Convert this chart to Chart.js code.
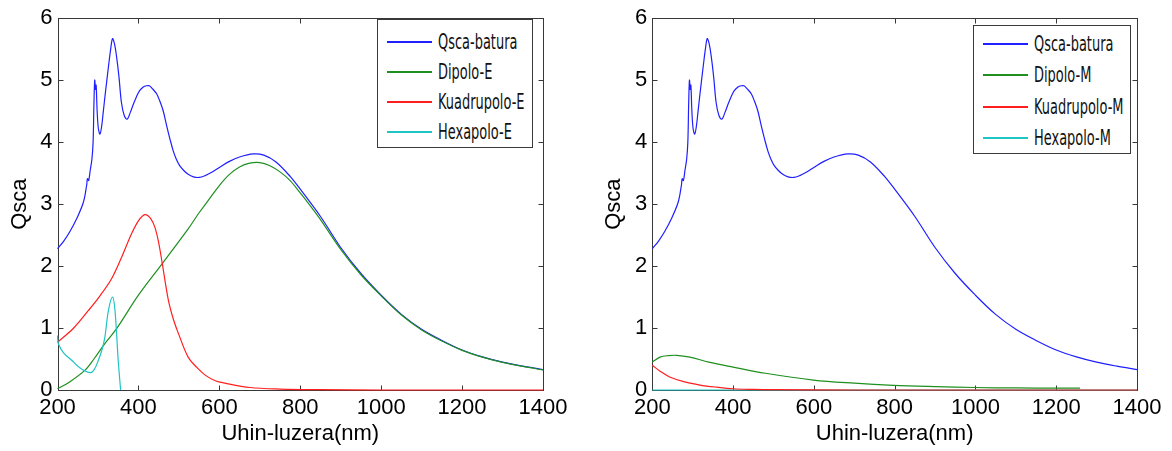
<!DOCTYPE html>
<html>
<head>
<meta charset="utf-8">
<script src="https://cdn.jsdelivr.net/npm/chart.js@4.4.1/dist/chart.umd.min.js"></script>
<style>
body { margin: 0; background: #fff; }
#wrap { position: relative; width: 1172px; height: 451px; overflow: hidden; }
canvas { position: absolute; top: 0; }
#chartE { left: 0; }
#chartM { left: 586px; }
.legend {
    position: absolute; box-sizing: border-box; background: #fff;
    border: 1px solid #3a3a3a;
    font-family: "Liberation Sans Narrow", "DejaVu Sans Condensed", sans-serif;
    font-size: 18px; color: #111;
}
.legend .row { position: absolute; left: 0; right: 0; height: 24px; }
.legend .swatch { position: absolute; left: 9px; width: 45px; top: 11px; height: 2px; }
.legend .label {
    position: absolute; left: 60px; top: 0; line-height: 24px; white-space: nowrap;
    transform: scale(0.8, 1.15); transform-origin: 0 50%;
}
</style>
</head>
<body>
<div id="wrap">
    <canvas id="chartE" width="586" height="451"></canvas>
    <canvas id="chartM" width="586" height="451"></canvas>
</div>
<script>
// wavelength (nm) / efficiency pairs
const totalWl = [200,215,230,247,264,272,274,277,281,285,288,290,292,294,295.5,298,301,305,309,313,317,322,326,331,336,341,346,352,358,365,372,380,388,395,403,412,420,427,435,445,453,461,470,478,486,494,502,511,523,536,550,565,580,602,625,650,684,710,740,776,800,850,900,950,1000,1050,1100,1150,1200,1250,1300,1350,1400];
const totalQ  = [2.28,2.4,2.55,2.76,3.03,3.3,3.41,3.38,3.55,3.72,4.0,4.6,5.0,4.85,4.92,4.5,4.22,4.13,4.25,4.48,4.72,5.0,5.22,5.48,5.67,5.58,5.38,5.05,4.64,4.43,4.37,4.48,4.62,4.73,4.83,4.89,4.91,4.91,4.86,4.78,4.66,4.51,4.26,4.05,3.86,3.72,3.62,3.55,3.48,3.44,3.43,3.46,3.51,3.60,3.69,3.76,3.81,3.79,3.68,3.44,3.24,2.8,2.30,1.88,1.53,1.22,0.98,0.80,0.645,0.535,0.45,0.385,0.33];

const dipEWl = [200,230,268,290,317,346,400,459,523,550,575,600,625,650,675,700,725,750,775,800,825,850,900,950,1000,1050,1100,1150,1200,1250,1300,1350,1400];
const dipEQ  = [0.02,0.13,0.32,0.5,0.75,0.99,1.53,2.04,2.6,2.86,3.08,3.30,3.48,3.60,3.66,3.67,3.62,3.52,3.38,3.18,2.97,2.75,2.27,1.86,1.52,1.21,0.97,0.79,0.64,0.53,0.445,0.38,0.325];

const quadEWl = [200,240,276,305,334,359,383,400,416,430,441,450,459,474,486,499,523,545,565,590,614,676,750,850,1000,1400];
const quadEQ  = [0.77,1.0,1.28,1.52,1.8,2.15,2.52,2.73,2.83,2.77,2.62,2.38,2.04,1.45,1.15,0.91,0.53,0.36,0.24,0.15,0.11,0.04,0.015,0.005,0,0];

const hexEWl = [200,202,215,235,255,280,290,301,310,317,326,336,342,350,356];
const hexEQ  = [0.88,0.75,0.6,0.48,0.36,0.28,0.32,0.48,0.65,0.85,1.29,1.50,1.29,0.48,0];

const dipMWl = [200,219,240,260,293,340,400,480,599,700,797,900,999,1100,1200,1259];
const dipMQ  = [0.45,0.53,0.555,0.56,0.53,0.45,0.37,0.27,0.16,0.11,0.076,0.055,0.04,0.033,0.03,0.03];

const quadMWl = [200,220,243,280,318,360,400,450,500,700,1000,1400];
const quadMQ  = [0.40,0.3,0.21,0.13,0.08,0.045,0.02,0.01,0.005,0,0,0];

const hexMWl = [200,400,800,1400];
const hexMQ  = [0,0,0,0];

const xTicks = [200,400,600,800,1000,1200,1400];
const yTicks = [0,1,2,3,4,5,6];

const FONT = '"Liberation Sans", Arial, sans-serif';
const TICK_LEN = 5;

const pts = function(wl, q) {
    return wl.map((w, i) => ({ x: w, y: q[i] }));
};

const line = function(label, wl, q, color, order) {
    return {
        label: label, data: pts(wl, q), borderColor: color, backgroundColor: color,
        borderWidth: 1.2, pointRadius: 0, tension: 0.35,
        fill: false, clip: 3, order: order
    };
};

// matlab style box with inward ticks on all four sides
const boxPlugin = {
    id: 'boxPlugin',
    beforeDatasetsDraw(chart) {
        const { ctx, chartArea: a, scales } = chart;
        ctx.save();
        ctx.strokeStyle = '#383838';
        ctx.lineWidth = 1;
        const l = Math.round(a.left) + 0.5, r = Math.round(a.right) + 0.5;
        const t = Math.round(a.top) + 0.5, b = Math.round(a.bottom) + 0.5;
        ctx.strokeRect(l, t, r - l, b - t);
        ctx.beginPath();
        xTicks.forEach(v => {
            const px = Math.round(scales.x.getPixelForValue(v)) + 0.5;
            ctx.moveTo(px, b); ctx.lineTo(px, b - TICK_LEN);
            ctx.moveTo(px, t); ctx.lineTo(px, t + TICK_LEN);
        });
        yTicks.forEach(v => {
            const py = Math.round(scales.y.getPixelForValue(v)) + 0.5;
            ctx.moveTo(l, py); ctx.lineTo(l + TICK_LEN, py);
            ctx.moveTo(r, py); ctx.lineTo(r - TICK_LEN, py);
        });
        ctx.stroke();
        ctx.restore();
    }
};

const makeLegend = function(chart, spec) {
    const $box = document.createElement('div');
    $box.className = 'legend';
    $box.style.left = spec.left + 'px';
    $box.style.top = spec.top + 'px';
    $box.style.width = spec.width + 'px';
    $box.style.height = spec.height + 'px';
    chart.data.datasets.forEach((ds, i) => {
        const $row = document.createElement('div');
        $row.className = 'row';
        $row.style.top = (spec.first + i * spec.gap - 12) + 'px';
        const $sw = document.createElement('div');
        $sw.className = 'swatch';
        $sw.style.backgroundColor = ds.borderColor;
        const $lb = document.createElement('div');
        $lb.className = 'label';
        $lb.textContent = ds.label;
        $row.appendChild($sw);
        $row.appendChild($lb);
        $box.appendChild($row);
    });
    document.getElementById('wrap').appendChild($box);
};

const makeChart = function(id, datasets, yWidth, yTitlePad, padRight) {
    const ctx = document.getElementById(id).getContext('2d');
    return new Chart(ctx, {
        type: 'line',
        data: { datasets: datasets },
        options: {
            responsive: false, animation: false,
            layout: { padding: { top: 18, right: padRight, left: 0, bottom: 0 } },
            plugins: { legend: { display: false }, tooltip: { enabled: false } },
            scales: {
                x: {
                    type: 'linear', min: 200, max: 1400,
                    afterBuildTicks: s => { s.ticks = xTicks.map(v => ({ value: v })); },
                    afterFit: s => { s.height = 61; },
                    grid: { display: false, drawTicks: false },
                    border: { display: false },
                    ticks: { color: '#000', font: { family: FONT, size: 22 }, padding: 5, maxRotation: 0, autoSkip: false,
                             callback: v => String(v) },
                    title: { display: true, text: 'Uhin-luzera(nm)', color: '#000', font: { family: FONT, size: 22 }, padding: { top: 0, bottom: 4 } }
                },
                y: {
                    type: 'linear', min: 0, max: 6,
                    afterBuildTicks: s => { s.ticks = yTicks.map(v => ({ value: v })); },
                    afterFit: s => { s.width = yWidth; },
                    grid: { display: false, drawTicks: false },
                    border: { display: false },
                    ticks: { color: '#000', font: { family: FONT, size: 22 }, padding: 5, callback: v => String(v) },
                    title: { display: true, text: 'Qsca', color: '#000', font: { family: FONT, size: 22 }, padding: { top: yTitlePad, bottom: 0 } }
                }
            }
        },
        plugins: [boxPlugin]
    });
};

const BLUE = '#1f1fff', GREEN = '#1f8f1f', RED = '#ff1f1f', CYAN = '#1fc4c4';

const chartE = makeChart('chartE', [
    line('Qsca-batura', totalWl, totalQ, BLUE, 4),
    line('Dipolo-E', dipEWl, dipEQ, GREEN, 3),
    line('Kuadrupolo-E', quadEWl, quadEQ, RED, 2),
    line('Hexapolo-E', hexEWl, hexEQ, CYAN, 1)
], 57.5, 7, 43);

const chartM = makeChart('chartM', [
    line('Qsca-batura', totalWl, totalQ, BLUE, 4),
    line('Dipolo-M', dipMWl, dipMQ, GREEN, 3),
    line('Kuadrupolo-M', quadMWl, quadMQ, RED, 2),
    line('Hexapolo-M', hexMWl, hexMQ, CYAN, 5)
], 66.3, 15, 35);

makeLegend(chartE, { left: 377, top: 19, width: 156, height: 129, first: 22, gap: 30 });
makeLegend(chartM, { left: 973, top: 25, width: 158, height: 129, first: 18, gap: 31.3 });
</script>
</body>
</html>
